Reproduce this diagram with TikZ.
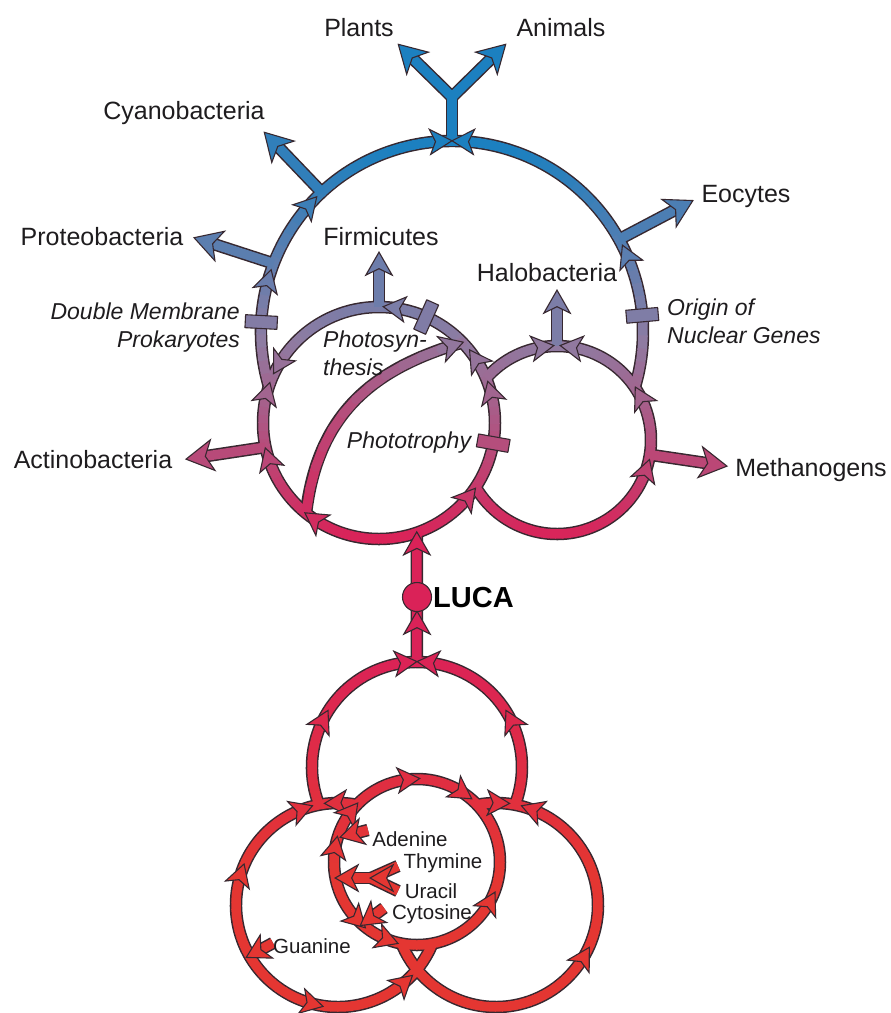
\documentclass[tikz,border=0pt]{standalone}
\usepackage{fontspec}
\setmainfont{Liberation Sans}
\usetikzlibrary{calc}

\definecolor{cblue}{RGB}{28,128,192}
\definecolor{cpurp}{RGB}{142,124,162}
\definecolor{cpink}{RGB}{218,34,88}
\definecolor{cred}{RGB}{228,54,50}
\definecolor{rimcol}{RGB}{55,40,48}
\definecolor{txt}{RGB}{30,28,30}

% band colour from the height y (px)
\newcommand\bandcol[1]{%
  \pgfmathsetmacro\yv{#1}%
  \pgfmathsetmacro\mixb{max(0,min(100,(\yv-150)/1.9))}%
  \pgfmathsetmacro\mixp{max(0,min(100,(\yv-340)/2))}%
  \pgfmathsetmacro\mixr{max(0,min(100,(\yv-650)/2.2))}%
  \colorlet{bc}{cpurp!\mixb!cblue}%
  \colorlet{bc}{cpink!\mixp!bc}%
  \colorlet{bc}{cred!\mixr!bc}}

% coloured core of a loop: centre x, centre y, radius, from, to
\newcommand\gradarc[5]{%
  \pgfmathtruncatemacro\nseg{ceil(abs(#5-(#4))/4)}%
  \pgfmathsetmacro\dang{(#5-(#4))/\nseg}%
  \foreach \k in {1,...,\nseg}{%
    \pgfmathsetmacro\angA{#4+(\k-1)*\dang}%
    \pgfmathsetmacro\angB{#4+\k*\dang+0.5}%
    \bandcol{#2+#3*sin(\angA+\dang/2)}%
    \draw[core, bc] ({#1+#3*cos(\angA)},{#2+#3*sin(\angA)}) arc[start angle=\angA, end angle=\angB, radius=#3];}}

% small head at (x,y) pointing to direction d
\newcommand\headat[3]{%
  \bandcol{#2}%
  \draw[headst, fill=bc, shift={({#1},{#2})}, rotate={-(#3)}]
    (10,0) -- (-12,12.5) -- (-6.5,0) -- (-12,-12.5) -- cycle;}

% head on a loop: centre x, centre y, radius, angle, sense
\newcommand\cirhead[5]{\headat{#1+#3*cos(#4)}{#2+#3*sin(#4)}{#4+90*(#5)}}

% bar across a loop: centre x, centre y, radius, angle
\newcommand\barat[4]{%
  \bandcol{#2+#3*sin(#4)}%
  \draw[barst, fill=bc, shift={({#1+#3*cos(#4)},{#2+#3*sin(#4)})}, rotate={-(#4)}]
    (-16,-6.5) rectangle (16,6.5);}

% head at the end of a branch: from, to, y for colour, scale
\newcommand\tiphead[4]{%
  \bandcol{#3}%
  \pgfmathanglebetweenpoints{\pgfpointanchor{#1}{center}}{\pgfpointanchor{#2}{center}}%
  \let\hang\pgfmathresult
  \draw[headst, fill=bc, shift={(#2)}, rotate=\hang, scale=#4]
    (1,0) -- (-26,15.5) -- (-18.5,0) -- (-26,-15.5) -- cycle;}

\begin{document}
\begin{tikzpicture}[x=1pt, y=-1pt, line join=round,
  rim/.style={line width=12.5pt, draw=rimcol},
  core/.style={line width=9.5pt},
  headst/.style={draw=rimcol, line width=1.1pt, line join=miter},
  barst/.style={draw=rimcol, line width=1.1pt},
  lab/.style={text=txt, inner sep=0pt, font=\fontsize{25}{28}\selectfont},
  itlab/.style={text=txt, inner sep=0pt, font=\fontsize{23}{28}\selectfont\itshape},
  smlab/.style={text=txt, inner sep=0pt, font=\fontsize{20.5}{24}\selectfont},
  lucalab/.style={text=black, inner sep=0pt, font=\fontsize{29}{32}\selectfont\bfseries}]
\useasboundingbox (0,0) rectangle (891,1013);

% centres
\coordinate (cBig) at (452,332);
\coordinate (cLeft) at (379,423);
\coordinate (cRight) at (557,440);
\coordinate (cTop) at (417,767);
% junctions and tips
\coordinate (jTop) at ($(cBig)+(-90:191)$);
\coordinate (fork) at (452,97);
\coordinate (tPla) at (399,45);
\coordinate (tAni) at (505,45);
\coordinate (jCya) at ($(cBig)+(-133:191)$);
\coordinate (tCya) at (265,133);
\coordinate (jPro) at ($(cBig)+(-159:191)$);
\coordinate (tPro) at (195,238);
\coordinate (jEoc) at ($(cBig)+(-29:191)$);
\coordinate (tEoc) at (692,201);
\coordinate (jFir) at ($(cLeft)+(-90:116)$);
\coordinate (tFir) at (379,253);
\coordinate (jHal) at ($(cRight)+(-90:94)$);
\coordinate (tHal) at (557,291);
\coordinate (jAct) at ($(cLeft)+(168:116)$);
\coordinate (tAct) at (187,459);
\coordinate (jMet) at ($(cRight)+(9:94)$);
\coordinate (tMet) at (726,466);
\coordinate (jLuca) at ($(cLeft)+(71:116)$);
\coordinate (tLuca) at ($(cTop)+(-90:105)$);
\coordinate (lucaC) at (417,597);
\coordinate (lucaS) at (417,612);
\coordinate (ph0) at ($(cLeft)+(129:116)$);
\coordinate (ph12) at ($(cLeft)+(-44:116)$);
\path (ph0) .. controls (318,412) and (375,368) .. (ph12)
  coordinate[pos=0.0833] (ph1) coordinate[pos=0.1667] (ph2) coordinate[pos=0.25] (ph3)
  coordinate[pos=0.3333] (ph4) coordinate[pos=0.4167] (ph5) coordinate[pos=0.5] (ph6)
  coordinate[pos=0.5833] (ph7) coordinate[pos=0.6667] (ph8) coordinate[pos=0.75] (ph9)
  coordinate[pos=0.8333] (ph10) coordinate[pos=0.9167] (ph11);
% bases
\coordinate (aS) at (368,830);  \coordinate (aT) at (341,837);
\coordinate (tyS) at (398,866); \coordinate (uS) at (398,891);
\coordinate (tuJ) at (371,878); \coordinate (tuR) at (395,878); \coordinate (tuT) at (336,878);
\coordinate (cS) at (384,908);  \coordinate (cT) at (361,925);
\coordinate (gS) at (273,943);  \coordinate (gT) at (247,957);

\def\looplist{452/332/191/163.5/376.8, 379/423/116/0/360, 557/440/94/-139/150,
  417/767/105/159/381, 338/905/102/22.2/280.7, 496/905/102/-100.7/157.8, 417/862/83/0/360}
\def\branchlist{jCya/tCya/185/1, jPro/tPro/255/1, jEoc/tEoc/230/1, jFir/tFir/285/0.85,
  jHal/tHal/310/0.85, jAct/tAct/450/1, jMet/tMet/458/1,
  aS/aT/835/0.85, tuJ/tuT/878/0.85, cS/cT/915/0.85, gS/gT/950/0.85}
\def\headlist{452/332/191/196/1, 452/332/191/222/1, 452/332/191/267/1, 452/332/191/273/-1,
  452/332/191/-24/-1,
  379/423/116/195.4/1, 379/423/116/162.7/1, 379/423/116/124.6/1, 379/423/116/39/-1,
  379/423/116/-16/-1, 379/423/116/-34/-1, 379/423/116/-83/-1, 379/423/116/-150/-1,
  557/440/94/-28/-1, 557/440/94/18/-1, 557/440/94/262/1, 557/440/94/-82/-1,
  417/767/105/264.5/1, 417/767/105/275.5/-1, 417/767/105/207/1, 417/767/105/-27/-1,
  338/905/102/250/1, 338/905/102/268/-1, 338/905/102/198/1, 338/905/102/104/-1,
  338/905/102/49/-1, 496/905/102/-70/-1, 496/905/102/-88/1, 496/905/102/30/-1,
  417/862/83/-95/1, 417/862/83/-56/1, 417/862/83/218/1, 417/862/83/191/1,
  417/862/83/135/-1, 417/862/83/110/-1, 417/862/83/28/-1}

% outlines
\foreach \cx/\cy/\rr/\sa/\ea in \looplist
  \draw[rim] ({\cx+\rr*cos(\sa)},{\cy+\rr*sin(\sa)}) arc[start angle=\sa, end angle=\ea, radius=\rr];
\foreach \a/\b/\h/\s in \branchlist
  \draw[rim, shorten >=11pt] (\a) -- (\b);
\draw[rim] (jTop) -- (fork);
\draw[rim] ($(tPla)!11pt!(fork)$) -- (fork) -- ($(tAni)!11pt!(fork)$);
\draw[rim] (jLuca) -- (tLuca);
\draw[rim] (ph0) .. controls (318,412) and (375,368) .. (ph12);
\draw[rim] (tyS) -- (tuJ) -- (uS);

% coloured cores
\foreach \cx/\cy/\rr/\sa/\ea in \looplist {\gradarc{\cx}{\cy}{\rr}{\sa}{\ea}}
\foreach \a/\b/\h/\s in \branchlist {\bandcol{\h}\draw[core, bc, shorten >=11pt] (\a) -- (\b);}
\bandcol{110}
\draw[core, bc] (jTop) -- (fork);
\draw[core, bc] ($(tPla)!11pt!(fork)$) -- (fork) -- ($(tAni)!11pt!(fork)$);
\bandcol{560}
\draw[core, bc] (jLuca) -- (tLuca);
\foreach \k [evaluate=\k as \n using int(\k+1)] in {0,...,11}
  {\bandcol{513-14.2*\k}\draw[core, bc, line cap=round] (ph\k) -- (ph\n);}
\bandcol{878}
\draw[core, bc] (tyS) -- (tuJ) -- (uS);

% heads and bars
\foreach \cx/\cy/\rr/\ang/\sen in \headlist {\cirhead{\cx}{\cy}{\rr}{\ang}{\sen}}
\foreach \a/\b/\h/\s in \branchlist {\tiphead{\a}{\b}{\h}{\s}}
\tiphead{fork}{tPla}{70}{1}
\tiphead{fork}{tAni}{70}{1}
\tiphead{ph11}{ph12}{350}{0.85}
\tiphead{tuR}{tuJ}{878}{0.85}
\tiphead{lucaC}{jLuca}{545}{0.85}
\tiphead{tLuca}{lucaS}{625}{0.85}
\barat{452}{332}{191}{183}
\barat{452}{332}{191}{-5}
\barat{379}{423}{116}{-66}
\barat{379}{423}{116}{10}
\node[circle, draw=rimcol, line width=1.1pt, fill=cpink, minimum size=29pt, inner sep=0pt] (luca) at (lucaC) {};

% labels
\node[lab] (plants) at (359,28) {Plants};
\node[lab] (animals) at (561,28) {Animals};
\node[lab] (cyano) at (184,113) {Cyanobacteria};
\node[lab] (proteo) at (102,237) {Proteobacteria};
\node[lab] (firmi) at (381,237) {Firmicutes};
\node[lab] (halo) at (547,273) {Halobacteria};
\node[lab] (eocytes) at (746,196) {Eocytes};
\node[lab] (actino) at (93,460) {Actinobacteria};
\node[lab] (methano) at (811,470) {Methanogens};
\node[itlab, anchor=east, align=right] (dmp) at (240,328) {Double Membrane\\Prokaryotes};
\node[itlab, anchor=west, align=left] (ong) at (667,321) {Origin of\\Nuclear Genes};
\node[itlab, anchor=west, align=left] (psyn) at (323,353) {Photosyn-\\thesis};
\node[itlab] (ptroph) at (409,443) {Phototrophy};
\node[lucalab, anchor=west] (lucatxt) at (433,598) {LUCA};
\node[smlab] (adenine) at (410,839) {Adenine};
\node[smlab] (thymine) at (443,863) {Thymine};
\node[smlab] (uracil) at (431,891) {Uracil};
\node[smlab] (cytosine) at (432,914) {Cytosine};
\node[smlab] (guanine) at (312,946) {Guanine};
\end{tikzpicture}
\end{document}
